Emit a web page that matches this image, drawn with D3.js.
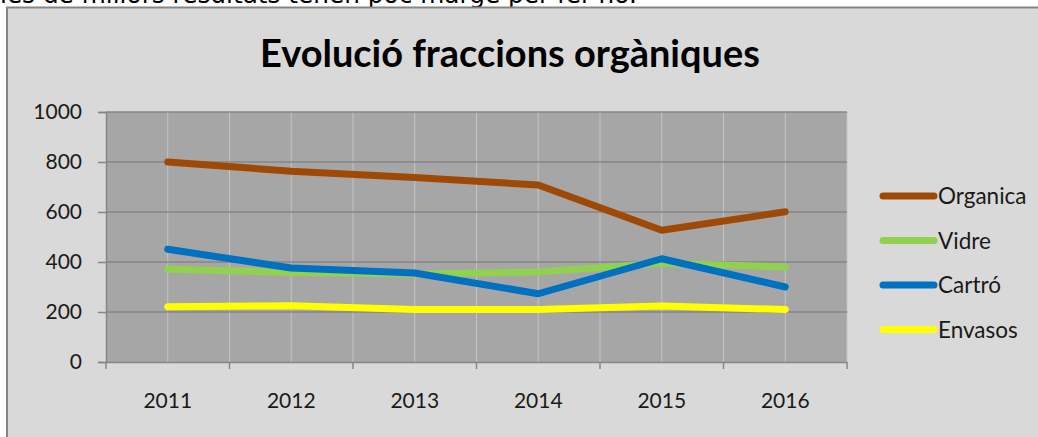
<!DOCTYPE html>
<html><head><meta charset="utf-8">
<script src="https://cdn.jsdelivr.net/npm/d3@7"></script>
<style>html,body{margin:0;padding:0;background:#fff;overflow:hidden}</style>
</head><body>
<svg id="c" width="1038" height="437"></svg>
<script>
const years = ["2011","2012","2013","2014","2015","2016"];
const organica = [800, 763, 738, 708, 527, 601];
const vidre    = [371, 358, 352, 360, 395, 380];
const cartro   = [451, 376, 356, 273, 413, 300];
const envasos  = [221, 225, 210, 210, 224, 210];
const seriesNames = ["Organica","Vidre","Cartró","Envasos"];
const seriesColors = ["#9e4a06","#92d050","#0070c0","#ffff00"];
const yTicks = [0,200,400,600,800,1000];
const titleText = "Evolució fraccions orgàniques";
const aboveText = "les de millors resultats tenen poc marge per fer-ho.";

const seriesData = [organica, vidre, cartro, envasos];
const svg = d3.select("#c");
const W = 1038, H = 437;

function fitText(sel, target) {
  const base = +sel.attr("font-size");
  const len = sel.node().getComputedTextLength();
  if (len > 0) sel.attr("font-size", base * target / len);
}

// text above the chart (cut off by the top of the picture, as in the reference)
const above = svg.append("text").attr("x", 0).attr("y", 3)
  .attr("font-family","DejaVu Sans").attr("font-size", 21).attr("fill","#000")
  .text(aboveText);
fitText(above, 637);

// chart area
svg.append("rect").attr("x",7).attr("y",7.5).attr("width",W).attr("height",H)
  .attr("fill","#d9d9d9").attr("stroke","#868686").attr("stroke-width",2);

const plot = {l:106, r:847, t:112, b:362};
const x = d3.scaleBand().domain(years).range([plot.l, plot.r]).padding(0);
const y = d3.scaleLinear().domain([0,1000]).range([plot.b, plot.t]);

svg.append("rect").attr("x",plot.l).attr("y",plot.t)
  .attr("width",plot.r-plot.l).attr("height",plot.b-plot.t).attr("fill","#a6a6a6");

// vertical gridlines at every half band
const vlines = [];
years.forEach((d,i)=>{ vlines.push(x(d)+x.bandwidth()/2); vlines.push(x(d)+x.bandwidth()); });
svg.append("g").selectAll("line").data(vlines).join("line")
  .attr("x1",d=>d).attr("x2",d=>d).attr("y1",plot.t).attr("y2",plot.b)
  .attr("stroke","#c4c4c4").attr("stroke-width",1);

// horizontal gridlines
svg.append("g").selectAll("line").data(yTicks.filter(v=>v>0)).join("line")
  .attr("x1",plot.l).attr("x2",plot.r).attr("y1",d=>y(d)).attr("y2",d=>y(d))
  .attr("stroke","#868686").attr("stroke-width",1.5);

// y axis
const yAxis = svg.append("g").attr("transform",`translate(${plot.l},0)`)
  .call(d3.axisLeft(y).tickValues(yTicks).tickSize(8).tickPadding(16).tickFormat(d3.format("d")));
yAxis.select(".domain").attr("stroke","#868686").attr("stroke-width",1.5);
yAxis.selectAll(".tick line").attr("stroke","#868686").attr("stroke-width",1.5);
yAxis.selectAll("text").attr("font-family","Lato").attr("font-size",21).attr("fill","#1a1a1a");

// x axis
const xAxis = svg.append("g").attr("transform",`translate(0,${plot.b})`)
  .call(d3.axisBottom(x).tickSize(0).tickPadding(31));
xAxis.select(".domain").attr("stroke","#868686").attr("stroke-width",1.5);
xAxis.selectAll("text").attr("font-family","Lato").attr("font-size",21).attr("fill","#1a1a1a");
const bounds = [plot.l].concat(years.map(d=>x(d)+x.bandwidth()));
xAxis.append("g").selectAll("line").data(bounds).join("line")
  .attr("x1",d=>d).attr("x2",d=>d).attr("y1",0).attr("y2",7)
  .attr("stroke","#868686").attr("stroke-width",1.5);

// lines
const line = d3.line().x((d,i)=>x(years[i])+x.bandwidth()/2).y(d=>y(d));
svg.append("g").selectAll("path").data(seriesData).join("path")
  .attr("d",line).attr("fill","none")
  .attr("stroke",(d,i)=>seriesColors[i]).attr("stroke-width",7)
  .attr("stroke-linecap","round").attr("stroke-linejoin","round");

// title
const title = svg.append("text").attr("x",510).attr("y",67).attr("text-anchor","middle")
  .attr("font-family","Lato").attr("font-weight","bold").attr("font-size",34).attr("fill","#000")
  .text(titleText);
fitText(title, 500);

// legend
const leg = svg.append("g").selectAll("g").data(seriesNames).join("g")
  .attr("transform",(d,i)=>`translate(0,${196 + i*44.5})`);
leg.append("line").attr("x1",883).attr("x2",934).attr("y1",0).attr("y2",0)
  .attr("stroke",(d,i)=>seriesColors[i]).attr("stroke-width",7).attr("stroke-linecap","round");
leg.append("text").attr("x",938).attr("y",8).text(d=>d)
  .attr("font-family","Lato").attr("font-size",22.5).attr("fill","#1a1a1a");
</script>
</body></html>
